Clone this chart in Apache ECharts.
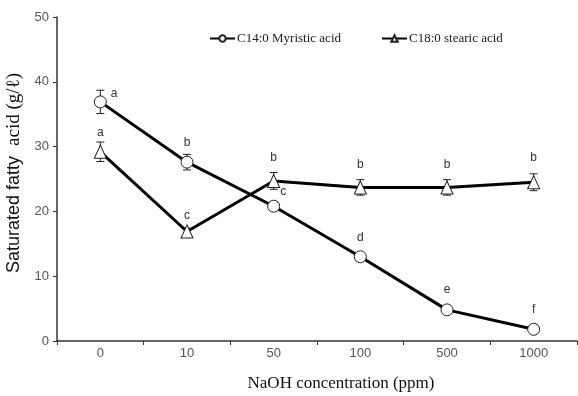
<!DOCTYPE html>
<html><head><meta charset="utf-8">
<script src="https://cdn.jsdelivr.net/npm/echarts@6/dist/echarts.min.js"></script>
<style>html,body{margin:0;padding:0;background:#fff}#c{width:578px;height:396px}</style>
</head><body><div id="c"></div>
<script>
const categories = ['0','10','50','100','500','1000'];
const myristic = [36.9, 27.6, 20.8, 13.0, 4.8, 1.8];
const myristicErr = [1.8, 1.2, 0.7, 0.4, 0.3, 0.3];
const myristicLetters = ['a','b','c','d','e','f'];
const stearic = [29.2, 16.9, 24.7, 23.7, 23.7, 24.5];
const stearicErr = [1.5, 0.5, 1.3, 1.2, 1.2, 1.3];
const stearicLetters = ['a','c','b','b','b','b'];
const yTicks = [0, 10, 20, 30, 40, 50];

// label placement (styling only)
const myrLabelStyle = [
  { position: 'right', distance: 4, offset: [0, -8] },
  { position: 'top', distance: 7 },
  { position: 'right', distance: 0, offset: [0, -15] },
  { position: 'top', distance: 7 },
  { position: 'top', distance: 8 },
  { position: 'top', distance: 7 }
];
const stLabelStyle = [
  { position: 'top', distance: 6 },
  { position: 'top', distance: 3 },
  { position: 'top', distance: 10 },
  { position: 'top', distance: 10 },
  { position: 'top', distance: 10 },
  { position: 'top', distance: 12 }
];

const chart = echarts.init(document.getElementById('c'));

function errSeries(vals, errs) {
  return {
    type: 'custom',
    data: vals.map((v, i) => [i, v - errs[i], v + errs[i]]),
    z: 1,
    silent: true,
    renderItem: function (params, api) {
      const lo = api.coord([api.value(0), api.value(1)]);
      const hi = api.coord([api.value(0), api.value(2)]);
      const w = 4;
      const st = { stroke: '#222', lineWidth: 1 };
      return { type: 'group', children: [
        { type: 'line', shape: { x1: lo[0], y1: lo[1], x2: hi[0], y2: hi[1] }, style: st },
        { type: 'line', shape: { x1: lo[0] - w, y1: lo[1], x2: lo[0] + w, y2: lo[1] }, style: st },
        { type: 'line', shape: { x1: hi[0] - w, y1: hi[1], x2: hi[0] + w, y2: hi[1] }, style: st }
      ]};
    }
  };
}

function labelData(vals, letters, styles) {
  return vals.map((v, i) => ({
    value: v,
    label: Object.assign({ show: true, formatter: letters[i] }, styles[i])
  }));
}

chart.setOption({
  animation: false,
  grid: { left: 57, right: 1, top: 17, bottom: 55, outerBoundsMode: 'none', containLabel: false },
  legend: {
    top: 27, left: 204, itemGap: 40, itemWidth: 25, itemHeight: 8,
    textStyle: { fontFamily: 'Liberation Serif', fontSize: 13, color: '#222', padding: [0, 0, 0, -3] },
    data: ['C14:0 Myristic acid', 'C18:0 stearic acid']
  },
  xAxis: {
    type: 'category', data: categories,
    name: 'NaOH concentration (ppm)', nameLocation: 'middle', nameGap: 34,
    nameTextStyle: { fontFamily: 'Liberation Serif', fontSize: 17, color: '#111', padding: [0, 0, 0, 48] },
    axisLine: { lineStyle: { color: '#333', width: 1.5 } },
    axisTick: { show: true, length: 4, lineStyle: { color: '#333' } },
    axisLabel: { color: '#555', fontSize: 13, fontFamily: 'Liberation Sans', margin: 6 }
  },
  yAxis: {
    type: 'value', min: 0, max: 50, interval: 10,
    name: '{s|Saturated fatty  }{r|acid (g/ℓ)}', nameLocation: 'middle', nameGap: 30,
    nameTextStyle: {
      color: '#111',
      padding: [0, 0, 0, 12],
      rich: {
        s: { fontFamily: 'Liberation Sans', fontSize: 18, color: '#111' },
        r: { fontFamily: 'Liberation Serif', fontSize: 19, color: '#111' }
      }
    },
    axisLine: { show: true, lineStyle: { color: '#333', width: 1.5 } },
    axisTick: { show: true, length: 4, lineStyle: { color: '#333' } },
    splitLine: { show: false },
    axisLabel: { color: '#555', fontSize: 13, fontFamily: 'Liberation Sans', margin: 8,
      formatter: v => yTicks.includes(v) ? String(v) : '' }
  },
  series: [
    errSeries(myristic, myristicErr),
    errSeries(stearic, stearicErr),
    {
      name: 'C14:0 Myristic acid', type: 'line', z: 3,
      data: labelData(myristic, myristicLetters, myrLabelStyle),
      symbol: 'circle', symbolSize: 12,
      lineStyle: { color: '#000', width: 3 },
      itemStyle: { color: '#fff', borderColor: '#222', borderWidth: 1 },
      label: { color: '#333', fontSize: 12, fontFamily: 'Liberation Sans' }
    },
    {
      name: 'C18:0 stearic acid', type: 'line', z: 3,
      data: labelData(stearic, stearicLetters, stLabelStyle),
      symbol: 'triangle', symbolSize: [12, 13],
      lineStyle: { color: '#000', width: 3 },
      itemStyle: { color: '#fff', borderColor: '#222', borderWidth: 1 },
      label: { color: '#333', fontSize: 12, fontFamily: 'Liberation Sans' }
    }
  ]
});
</script></body></html>
